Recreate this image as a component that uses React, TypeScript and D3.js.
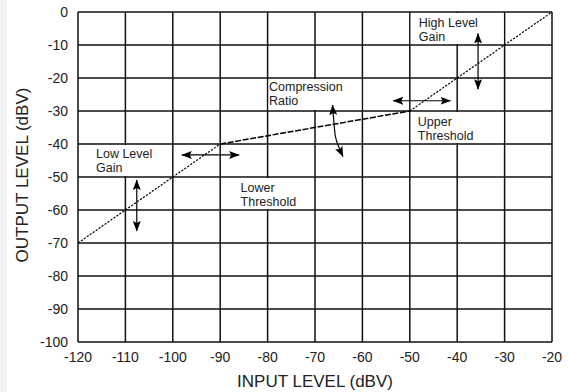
import * as d3 from "d3";

// axis ticks
const xTicks = [-120, -110, -100, -90, -80, -70, -60, -50, -40, -30, -20];
const yTicks = [0, -10, -20, -30, -40, -50, -60, -70, -80, -90, -100];

// transfer curve pieces (input dBV, output dBV)
const lowGainSeg: [number, number][] = [[-120, -70], [-90, -40]];
const compressSeg: [number, number][] = [[-90, -40], [-50, -30]];
const highGainSeg: [number, number][] = [[-50, -30], [-20, 0]];

// annotation labels: text lines, anchor (data units)
const labelLines = [
  ["Low Level", "Gain"],
  ["Lower", "Threshold"],
  ["Compression", "Ratio"],
  ["Upper", "Threshold"],
  ["High Level", "Gain"],
];
const labelAnchors: [number, number][] = [
  [-116.2, -44.3],
  [-85.7, -54.5],
  [-79.7, -23.9],
  [-48.3, -34.5],
  [-48.1, -4.6],
];
// grid cells hidden behind each label [x0, x1, yTop, yBottom]
const labelCells: [number, number, number, number][] = [
  [-120, -100, -40, -50],
  [-90, -70, -50, -60],
  [-80, -60, -20, -30],
  [-50, -30, -30, -40],
  [-50, -30, 0, -10],
];

// double arrows (data units)
const arrows: [number, number][][] = [
  [[-107.6, -50.9], [-107.6, -66.4]],
  [[-98.1, -43.3], [-86.0, -43.3]],
  [[-66.3, -28.2], [-66.0, -33.5], [-65.6, -38.3], [-64.1, -43.8]],
  [[-53.5, -26.9], [-41.4, -26.9]],
  [[-35.6, -6.5], [-35.6, -23.4]],
];

const W = 568;
const H = 392;
const font = "'Liberation Sans', Arial, Helvetica, sans-serif";

export default function App() {
  const x = d3.scaleLinear().domain([-120, -20]).range([78, 552]);
  const y = d3.scaleLinear().domain([-100, 0]).range([342, 12]);

  const line = d3
    .line<[number, number]>()
    .x((d) => x(d[0]))
    .y((d) => y(d[1]));
  const curve = d3
    .line<[number, number]>()
    .x((d) => x(d[0]))
    .y((d) => y(d[1]))
    .curve(d3.curveCatmullRom);

  return (
    <svg
      width={W}
      height={H}
      style={{ position: "absolute", left: 0, top: 0, background: "#fff" }}
    >
      <defs>
        <marker
          id="head"
          viewBox="0 -4.5 11 9"
          refX={10}
          refY={0}
          markerWidth={11}
          markerHeight={9}
          markerUnits="userSpaceOnUse"
          orient="auto-start-reverse"
        >
          <path d="M0,-4 L10.5,0 L0,4 L2,0 Z" fill="#000" />
        </marker>
      </defs>
      <rect x={0} y={0} width={W} height={H} fill="#fff" />
      <rect x={0} y={0} width={7} height={H} fill="#f2f2f2" />

      {/* grid */}
      <g stroke="#111" strokeWidth={1.5}>
        {xTicks.map((t) => (
          <line key={"gx" + t} x1={x(t)} x2={x(t)} y1={y(0)} y2={y(-100)} />
        ))}
        {yTicks.map((t) => (
          <line key={"gy" + t} x1={x(-120)} x2={x(-20)} y1={y(t)} y2={y(t)} />
        ))}
      </g>

      {/* white label boxes hiding grid segments */}
      {labelCells.map((c, i) => (
        <rect
          key={"cell" + i}
          x={x(c[0]) + 1}
          y={y(c[2]) + 1}
          width={x(c[1]) - x(c[0]) - 2}
          height={y(c[3]) - y(c[2]) - 2}
          fill="#fff"
        />
      ))}

      {/* transfer curve */}
      <path d={line(lowGainSeg) ?? ""} fill="none" stroke="#000" strokeWidth={1.2} strokeDasharray="2.2,1.4" />
      <path d={line(compressSeg) ?? ""} fill="none" stroke="#000" strokeWidth={1.5} strokeDasharray="6,1.6" />
      <path d={line(highGainSeg) ?? ""} fill="none" stroke="#000" strokeWidth={1.2} strokeDasharray="2.2,1.4" />

      {/* arrows */}
      {arrows.map((a, i) => (
        <path
          key={"ar" + i}
          d={(a.length > 2 ? curve(a) : line(a)) ?? ""}
          fill="none"
          stroke="#000"
          strokeWidth={1.2}
          markerStart="url(#head)"
          markerEnd="url(#head)"
        />
      ))}

      {/* annotation text */}
      <g fontFamily={font} fontSize={12.5} fill="#222">
        {labelLines.map((lines, i) => (
          <text key={"lb" + i} x={x(labelAnchors[i][0])} y={y(labelAnchors[i][1])}>
            {lines.map((s, j) => (
              <tspan key={j} x={x(labelAnchors[i][0])} dy={j === 0 ? 0 : 14}>
                {s}
              </tspan>
            ))}
          </text>
        ))}
      </g>

      {/* tick labels */}
      <g fontFamily={font} fontSize={14} fill="#222">
        {yTicks.map((t) => (
          <text key={"ty" + t} x={68} y={y(t)} dy="0.35em" textAnchor="end">
            {t}
          </text>
        ))}
        {xTicks.map((t) => (
          <text key={"tx" + t} x={x(t)} y={362} textAnchor="middle">
            {t}
          </text>
        ))}
      </g>

      {/* axis titles */}
      <g fontFamily={font} fontSize={17} fill="#222">
        <text x={315} y={387} textAnchor="middle">
          INPUT LEVEL (dBV)
        </text>
        <text transform="translate(28,175) rotate(-90)" textAnchor="middle">
          OUTPUT LEVEL (dBV)
        </text>
      </g>
    </svg>
  );
}
